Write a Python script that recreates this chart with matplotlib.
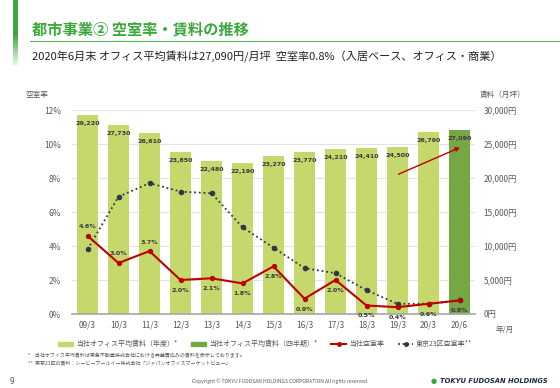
import matplotlib.pyplot as plt
from matplotlib.patches import Patch, Rectangle
from matplotlib.lines import Line2D
import numpy as np

plt.rcParams['font.family'] = ['Noto Sans CJK JP', 'DejaVu Sans']

periods = ['09/3', '10/3', '11/3', '12/3', '13/3', '14/3', '15/3',
           '16/3', '17/3', '18/3', '19/3', '20/3', '20/6']
rent = [29220, 27730, 26610, 23850, 22480, 22190, 23270,
        23770, 24210, 24410, 24500, 26790, 27090]
own_vacancy = [4.6, 3.0, 3.7, 2.0, 2.1, 1.8, 2.8, 0.9, 2.0, 0.5, 0.4, 0.6, 0.8]
tokyo_vacancy = [3.8, 6.9, 7.7, 7.2, 7.1, 5.1, 3.9, 2.7, 2.4, 1.4, 0.6, 0.6, 0.8]
label_above = [True, True, True, False, False, False, False,
               False, False, False, False, False, False]
vac_ticks = [0, 2, 4, 6, 8, 10, 12]
rent_ticks = [0, 5000, 10000, 15000, 20000, 25000, 30000]

light_green = '#C4D86C'
dark_green = '#76A745'
red = '#C00000'
dot_col = '#33364A'
grey = '#595959'

W, H = 560, 388
fig = plt.figure(figsize=(W / 100, H / 100), dpi=100)
fig.patch.set_facecolor('white')

# header decoration
for i in range(30):
    fig.patches.append(Rectangle((13 / W, 1 - (i + 1) * 65 / 30 / H), 5 / W, 65 / 30 / H,
                                 transform=fig.transFigure, color='#3DA53D',
                                 alpha=1 - max(0, i - 15) / 16, lw=0))
fig.add_artist(Line2D([30 / W, 1], [1 - 41 / H] * 2, color='#5CB85C', lw=0.8))
fig.text(32 / W, 1 - 30 / H, '都市事業② 空室率・賃料の推移', fontsize=11, fontweight='bold',
         color='#3BA83B', va='center')
fig.text(32 / W, 1 - 57 / H,
         '2020年6月末 オフィス平均賃料は27,090円/月坪  空室率0.8%（入居ベース、オフィス・商業）',
         fontsize=8, color='#222222', va='center')

ax = fig.add_axes([72 / W, 1 - 314 / H, 403 / W, 204 / H])
ax2 = ax.twinx()
x = np.arange(len(periods))
colors = [light_green] * (len(periods) - 1) + [dark_green]
ax.bar(x, rent, width=0.65, color=colors, zorder=2)
for xi, r in zip(x, rent):
    ax.annotate(f'{r:,}', (xi, r), xytext=(0, -6), textcoords='offset points',
                ha='center', va='center', fontsize=4.6, color='#3A3A3A',
                family='DejaVu Sans', fontweight='bold')
ax.set_ylim(0, 30000)
ax.set_xlim(-0.5, len(periods) - 0.5)
ax.yaxis.tick_right()
ax.yaxis.set_label_position('right')
ax.set_yticks(rent_ticks)
ax.set_yticklabels([f'{t:,}円' for t in rent_ticks])
ax.set_xticks(x)
ax.set_xticklabels(periods)
ax.grid(axis='y', color='#E3E3E3', lw=0.8, zorder=0)
ax.set_axisbelow(True)
for s in ['top', 'left', 'right']:
    ax.spines[s].set_visible(False)
ax.spines['bottom'].set_color('#A6A6A6')
ax.spines['bottom'].set_linewidth(1.2)
ax.tick_params(axis='both', length=0, labelsize=6, colors=grey, pad=6)
ax.tick_params(axis='x', pad=5)
ax.annotate('', xy=(12.1, 24650), xytext=(9.95, 20400),
            arrowprops=dict(arrowstyle='-|>', color=red, lw=1.0,
                            mutation_scale=6), zorder=5)

ax2.yaxis.tick_left()
ax2.yaxis.set_label_position('left')
ax2.set_ylim(0, 12)
ax2.set_yticks(vac_ticks)
ax2.set_yticklabels([f'{t}%' for t in vac_ticks])
ax2.tick_params(axis='y', length=0, labelsize=6, colors=grey, pad=8)
for s in ['top', 'left', 'right', 'bottom']:
    ax2.spines[s].set_visible(False)
ax2.plot(x, tokyo_vacancy, ls=(0, (1, 1.6)), lw=1.3, color=dot_col,
         marker='o', ms=3, zorder=3)
ax2.plot(x, own_vacancy, color=red, lw=1.5, marker='o', ms=2.8, zorder=4)
for xi, v, up in zip(x, own_vacancy, label_above):
    ax2.annotate(f'{v}%', (xi, v), xytext=(0, 6.5 if up else -7.5),
                 textcoords='offset points', ha='center', va='center',
                 fontsize=4.6, color='#3A3A3A', family='DejaVu Sans',
                 fontweight='bold', zorder=6)

fig.text(37 / W, 1 - 95 / H, '空室率', fontsize=5.5, color=grey, ha='center', va='center')
fig.text(503 / W, 1 - 95 / H, '賃料（月坪）', fontsize=5.5, color=grey, ha='center', va='center')
fig.text(505 / W, 1 - 330 / H, '年/月', fontsize=5.5, color=grey, ha='center', va='center')

handles = [Patch(color=light_green), Patch(color=dark_green),
           Line2D([], [], color=red, lw=1.5, marker='o', ms=2.5),
           Line2D([], [], color=dot_col, ls=(0, (1, 1.6)), lw=1.3, marker='o', ms=2.5)]
labels = ['当社オフィス平均賃料（年度）*', '当社オフィス平均賃料（四半期）*',
          '当社空室率', '東京23区空室率**']
leg = fig.legend(handles, labels, loc='center', bbox_to_anchor=(265 / W, 1 - 344 / H),
                 ncol=4, frameon=False, fontsize=5, handlelength=2.2, handleheight=0.5,
                 columnspacing=2.0, handletextpad=0.4)
for t in leg.get_texts():
    t.set_color(grey)

fig.text(28 / W, 1 - 356 / H,
         '*    当社オフィス平均賃料は東急不動産株式会社における共益費込みの賃料を表示しております。',
         fontsize=3.6, color=grey, va='center')
fig.text(28 / W, 1 - 364 / H,
         '**  東京23区の賃料：シービーアールイー株式会社「ジャパンオフィスマーケットビュー」',
         fontsize=3.6, color=grey, va='center')
fig.text(10 / W, 1 - 381 / H, '9', fontsize=6, color=grey, va='center')
fig.text(280 / W, 1 - 381 / H,
         'Copyright © TOKYU FUDOSAN HOLDINGS CORPORATION All rights reserved.',
         fontsize=3.6, color=grey, ha='center', va='center')
fig.text(434 / W, 1 - 381 / H, '●', fontsize=5, color='#3DA53D', ha='center', va='center',
         family='DejaVu Sans')
fig.text(440 / W, 1 - 381 / H, 'TOKYU FUDOSAN HOLDINGS', fontsize=4.9, color='#1F2A44',
         fontweight='bold', fontstyle='italic', va='center', family='DejaVu Sans')

fig.savefig('out.png', dpi=100)
